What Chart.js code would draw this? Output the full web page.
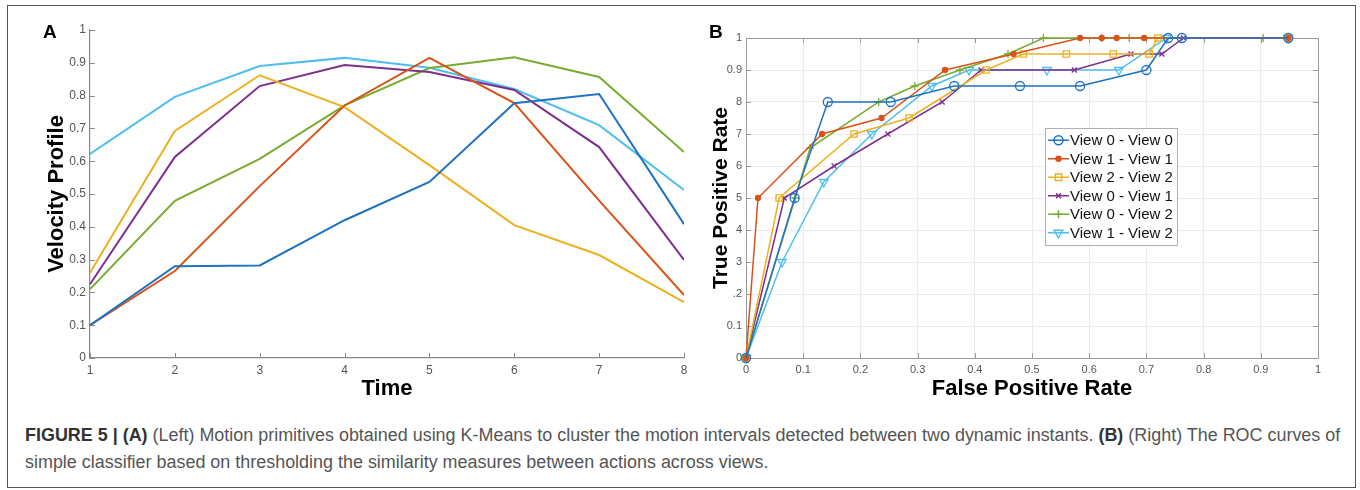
<!DOCTYPE html>
<html>
<head>
<meta charset="utf-8">
<script src="https://cdn.jsdelivr.net/npm/chart.js@4.4.1/dist/chart.umd.min.js"></script>
<style>
  body { margin: 0; background: #fff; width: 1360px; height: 490px; overflow: hidden; font-family: Arial, "Liberation Sans", sans-serif; }
  #frame { position: absolute; left: 7px; top: 5px; width: 1349px; height: 483px; border: 1.5px solid #555; box-sizing: border-box; }
  .panel { position: absolute; font-weight: bold; font-size: 19px; color: #000; line-height: 20px; }
  #wrapA { position: absolute; left: 0; top: 0; width: 700px; height: 410px; }
  #wrapB { position: absolute; left: 700px; top: 0; width: 660px; height: 410px; }
  .cap { position: absolute; left: 25px; white-space: nowrap; font-family: "Liberation Sans Narrow", Arial, sans-serif; font-size: 18px; line-height: 20px; color: #555; transform-origin: 0 0; }
  .cap b { color: #333; }
</style>
</head>
<body>
<div id="frame"></div>
<div id="wrapA"><canvas id="velocity_chart" width="700" height="410"></canvas></div>
<div id="wrapB"><canvas id="roc_chart" width="660" height="410"></canvas></div>
<div class="panel" style="left:43px;top:22px">A</div>
<div class="panel" style="left:709px;top:22px">B</div>
<div class="cap" id="cap1" style="top:425px"><b>FIGURE 5 | (A)</b> (Left) Motion primitives obtained using K-Means to cluster the motion intervals detected between two dynamic instants. <b>(B)</b> (Right) The ROC curves of</div>
<div class="cap" id="cap2" style="top:452px">simple classifier based on thresholding the similarity measures between actions across views.</div>

<script>
//--------------------------------------------------------------------------------
//--- Input datasets
//--------------------------------------------------------------------------------

// (A) velocity profiles of the motion primitives
var time_steps = [1, 2, 3, 4, 5, 6, 7, 8];
var primitive_1 = [0.10, 0.28, 0.282, 0.42, 0.537, 0.777, 0.805, 0.408];
var primitive_2 = [0.10, 0.265, 0.524, 0.77, 0.915, 0.777, 0.48, 0.192];
var primitive_3 = [0.26, 0.692, 0.862, 0.765, 0.588, 0.405, 0.314, 0.17];
var primitive_4 = [0.225, 0.613, 0.829, 0.893, 0.872, 0.817, 0.643, 0.299];
var primitive_5 = [0.21, 0.479, 0.607, 0.77, 0.884, 0.917, 0.857, 0.628];
var primitive_6 = [0.622, 0.796, 0.89, 0.915, 0.885, 0.82, 0.71, 0.512];

// (B) ROC curves
var roc_labels = ['View 0 - View 0', 'View 1 - View 1', 'View 2 - View 2', 'View 0 - View 1', 'View 0 - View 2', 'View 1 - View 2'];
var fpr_v0v0 = [0, 0.085, 0.143, 0.253, 0.364, 0.479, 0.584, 0.70, 0.738, 0.762, 0.948];
var tpr_v0v0 = [0, 0.5, 0.8, 0.8, 0.85, 0.85, 0.85, 0.9, 1, 1, 1];
var fpr_v1v1 = [0, 0.021, 0.133, 0.237, 0.348, 0.468, 0.584, 0.622, 0.648, 0.696, 0.948];
var tpr_v1v1 = [0, 0.5, 0.7, 0.75, 0.9, 0.95, 1, 1, 1, 1, 1];
var fpr_v2v2 = [0, 0.058, 0.189, 0.285, 0.42, 0.485, 0.56, 0.642, 0.705, 0.72, 0.948];
var tpr_v2v2 = [0, 0.5, 0.7, 0.75, 0.9, 0.95, 0.95, 0.95, 0.95, 1, 1];
var fpr_v0v1 = [0, 0.067, 0.154, 0.248, 0.343, 0.411, 0.574, 0.673, 0.727, 0.765, 0.948];
var tpr_v0v1 = [0, 0.5, 0.6, 0.7, 0.8, 0.9, 0.9, 0.95, 0.95, 1, 1];
var fpr_v0v2 = [0, 0.086, 0.112, 0.232, 0.295, 0.374, 0.458, 0.52, 0.622, 0.67, 0.904, 0.948];
var tpr_v0v2 = [0, 0.5, 0.656, 0.8, 0.85, 0.9, 0.95, 1, 1, 1, 1, 1];
var fpr_v1v2 = [0, 0.063, 0.136, 0.22, 0.325, 0.39, 0.526, 0.652, 0.735, 0.948];
var tpr_v1v2 = [0, 0.3, 0.55, 0.7, 0.85, 0.9, 0.9, 0.9, 1, 1];

// tick text as it is visible on the ROC y axis (0 .. 1)
var roc_y_ticks = ['0', '0.1', '.2', '3', '4', '5', '6', '7', '8', '0.9', '1'];

var colors = ['#1f72c0', '#d95319', '#edb120', '#7e2f8e', '#77ac30', '#4dbeee'];

function pairs(xs, ys) {
    return xs.map(function (x, i) { return {x: x, y: ys[i]}; });
}

function tickText(v) {
    return String(Math.round(v * 10) / 10);
}

//----------------------------------------
//--- Plugins
//----------------------------------------

// MATLAB style ticks pointing into the plot, optional full box
var innerTicks = {
    id: 'innerTicks',
    beforeDatasetsDraw: function (chart, args, opts) {
        var ctx = chart.ctx, a = chart.chartArea, len = opts.length;
        var sx = chart.scales.x, sy = chart.scales.y;
        ctx.save();
        ctx.strokeStyle = opts.color;
        ctx.lineWidth = 1;
        ctx.beginPath();
        sx.ticks.forEach(function (t) {
            var px = Math.round(sx.getPixelForValue(t.value)) + 0.5;
            ctx.moveTo(px, a.bottom); ctx.lineTo(px, a.bottom - len);
            if (opts.box) { ctx.moveTo(px, a.top); ctx.lineTo(px, a.top + len); }
        });
        sy.ticks.forEach(function (t) {
            var py = Math.round(sy.getPixelForValue(t.value)) + 0.5;
            ctx.moveTo(a.left, py); ctx.lineTo(a.left + len, py);
            if (opts.box) { ctx.moveTo(a.right, py); ctx.lineTo(a.right - len, py); }
        });
        if (opts.box) ctx.rect(a.left + 0.5, a.top + 0.5, a.right - a.left, a.bottom - a.top);
        ctx.stroke();
        ctx.restore();
    }
};

// legend box drawn inside the plot area
var insideLegend = {
    id: 'insideLegend',
    afterDraw: function (chart, args, opts) {
        var ctx = chart.ctx, a = chart.chartArea;
        var x0 = a.left + opts.dx, y0 = a.top + opts.dy, w = opts.width, rowH = opts.rowHeight;
        var n = chart.data.datasets.length;
        ctx.save();
        ctx.fillStyle = '#fff';
        ctx.strokeStyle = '#b0b0b0';
        ctx.lineWidth = 1;
        ctx.fillRect(x0, y0, w, rowH * n + 6);
        ctx.strokeRect(x0 + 0.5, y0 + 0.5, w, rowH * n + 6);
        chart.data.datasets.forEach(function (ds, i) {
            var cy = y0 + 3 + rowH * (i + 0.5);
            ctx.strokeStyle = ds.borderColor;
            ctx.fillStyle = ds.pointBackgroundColor;
            ctx.lineWidth = 1.5;
            ctx.beginPath();
            ctx.moveTo(x0 + 3, cy); ctx.lineTo(x0 + 24, cy);
            ctx.stroke();
            Chart.helpers.drawPoint(ctx, {
                pointStyle: ds.pointStyle, radius: ds.pointRadius,
                rotation: ds.pointRotation || 0, borderWidth: 1.3
            }, x0 + 13.5, cy);
            ctx.fillStyle = '#111';
            ctx.font = '15px Arial, "Liberation Sans", sans-serif';
            ctx.textBaseline = 'middle';
            ctx.fillText(ds.label, x0 + 25, cy + 1);
        });
        ctx.restore();
    }
};

//----------------------------------------
//--- (A) Velocity profiles
//----------------------------------------

var primitives = [primitive_1, primitive_2, primitive_3, primitive_4, primitive_5, primitive_6];

var velocity_chart = new Chart(document.getElementById('velocity_chart').getContext('2d'), {
    type: 'line',
    data: {
        datasets: primitives.map(function (vals, i) {
            return {data: pairs(time_steps, vals), borderColor: colors[i], borderWidth: 2, pointRadius: 0, tension: 0};
        })
    },
    options: {
        responsive: false, animation: false,
        layout: {padding: {left: 0, top: 30, right: 16, bottom: 0}},
        plugins: {
            legend: {display: false}, tooltip: {enabled: false},
            innerTicks: {color: '#888', length: 5, box: false}
        },
        scales: {
            x: {
                type: 'linear', min: 1, max: 8,
                ticks: {stepSize: 1, color: '#555', font: {size: 12}, padding: 5},
                grid: {display: false, drawTicks: false},
                border: {color: '#8a8a8a', width: 1.2},
                title: {display: true, text: 'Time', color: '#000', font: {size: 22, weight: 'bold'}, padding: {top: 0, bottom: 8}},
                afterFit: function (s) { s.height = 52; }
            },
            y: {
                min: 0, max: 1,
                ticks: {stepSize: 0.1, color: '#555', font: {size: 12}, padding: 4, callback: tickText},
                grid: {display: false, drawTicks: false},
                border: {color: '#8a8a8a', width: 1.2},
                title: {display: true, text: 'Velocity Profile', color: '#000', font: {size: 22, weight: 'bold'}, padding: {top: 44, bottom: 0}},
                afterFit: function (s) { s.width = 90; }
            }
        }
    },
    plugins: [innerTicks]
});

//----------------------------------------
//--- (B) ROC curves
//----------------------------------------

var roc_fpr = [fpr_v0v0, fpr_v1v1, fpr_v2v2, fpr_v0v1, fpr_v0v2, fpr_v1v2];
var roc_tpr = [tpr_v0v0, tpr_v1v1, tpr_v2v2, tpr_v0v1, tpr_v0v2, tpr_v1v2];
var roc_markers = [
    {style: 'circle', r: 4.5, fill: false, rot: 0},
    {style: 'circle', r: 2.5, fill: true, rot: 0},
    {style: 'rect', r: 4.5, fill: false, rot: 0},
    {style: 'crossRot', r: 3.5, fill: false, rot: 0},
    {style: 'cross', r: 4, fill: false, rot: 0},
    {style: 'triangle', r: 5, fill: false, rot: 180}
];

var roc_chart = new Chart(document.getElementById('roc_chart').getContext('2d'), {
    type: 'line',
    data: {
        datasets: roc_labels.map(function (label, i) {
            var m = roc_markers[i];
            return {
                label: label, data: pairs(roc_fpr[i], roc_tpr[i]),
                borderColor: colors[i], borderWidth: 1.5, tension: 0, clip: false,
                pointStyle: m.style, pointRadius: m.r, pointRotation: m.rot,
                pointBorderColor: colors[i], pointBorderWidth: 1.3,
                pointBackgroundColor: m.fill ? colors[i] : 'rgba(0,0,0,0)'
            };
        })
    },
    options: {
        responsive: false, animation: false,
        layout: {padding: {left: 0, top: 38, right: 42, bottom: 0}},
        plugins: {
            legend: {display: false}, tooltip: {enabled: false},
            innerTicks: {color: '#9a9a9a', length: 5, box: true},
            insideLegend: {dx: 299, dy: 90, width: 132, rowHeight: 18.5}
        },
        scales: {
            x: {
                type: 'linear', min: 0, max: 1,
                ticks: {stepSize: 0.1, color: '#555', font: {size: 11}, padding: 5, callback: tickText},
                grid: {color: '#ebebeb', drawTicks: false},
                border: {color: '#9a9a9a'},
                title: {display: true, text: 'False Positive Rate', color: '#000', font: {size: 22, weight: 'bold'}, padding: {top: 0, bottom: 8}},
                afterFit: function (s) { s.height = 52; }
            },
            y: {
                min: 0, max: 1,
                ticks: {
                    stepSize: 0.1, color: '#555', font: {size: 11}, padding: 4,
                    callback: function (v, idx) { return roc_y_ticks[idx]; }
                },
                grid: {color: '#ebebeb', drawTicks: false},
                border: {color: '#9a9a9a'},
                title: {display: true, text: 'True Positive Rate', color: '#000', font: {size: 21, weight: 'bold'}, padding: {top: 9, bottom: 0}},
                afterFit: function (s) { s.width = 46; }
            }
        }
    },
    plugins: [innerTicks, insideLegend]
});

//----------------------------------------
//--- Caption width fit
//----------------------------------------

var cap1 = document.getElementById('cap1'), cap2 = document.getElementById('cap2');
var k = 1315 / cap1.offsetWidth;
cap1.style.transform = 'scaleX(' + k + ')';
cap2.style.transform = 'scaleX(' + k + ')';
</script>
</body>
</html>
